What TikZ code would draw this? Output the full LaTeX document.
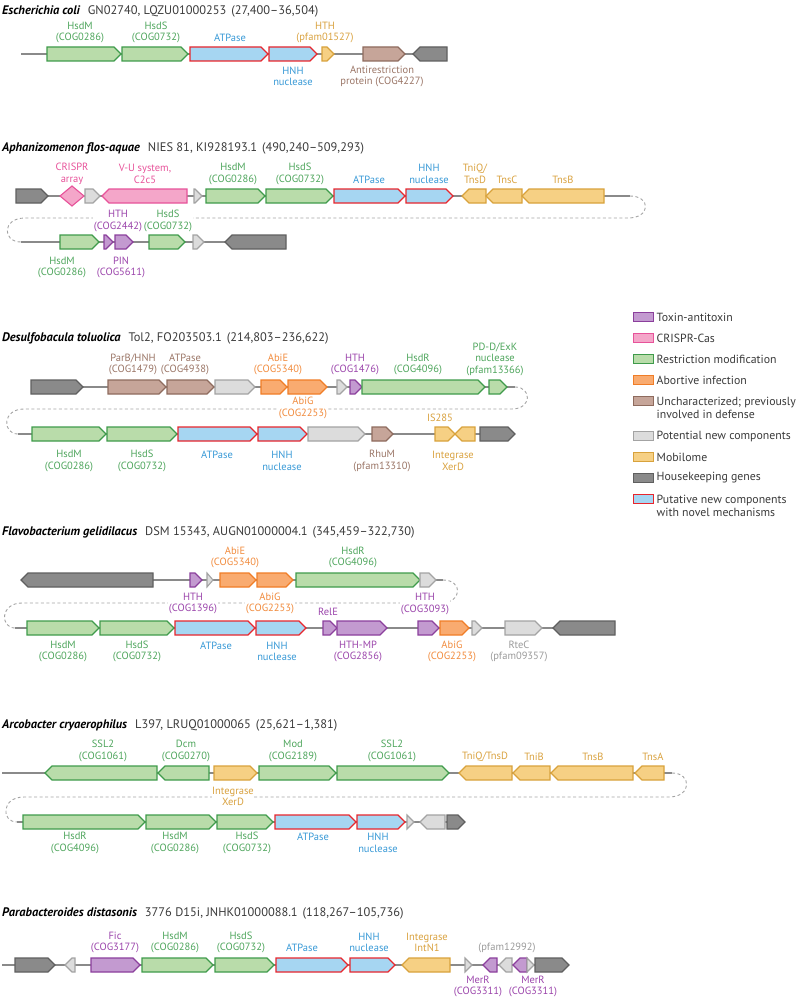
\documentclass[tikz,border=0pt]{standalone}
\usepackage{fontspec}
\setmainfont{PT Sans}
\usepackage{tikz}
\usepackage{xcolor}

\definecolor{rmF}{HTML}{B9DCAA}\definecolor{rmD}{HTML}{3F9B4B}\definecolor{rmT}{HTML}{4EA55C}
\definecolor{newF}{HTML}{A6D6F2}\definecolor{newD}{HTML}{E8262D}\definecolor{newT}{HTML}{3899D6}
\definecolor{taF}{HTML}{C39AD0}\definecolor{taD}{HTML}{8B3F9C}\definecolor{taT}{HTML}{9B45AB}
\definecolor{casF}{HTML}{F4A6C9}\definecolor{casD}{HTML}{E7539A}\definecolor{casT}{HTML}{E7539A}
\definecolor{abiF}{HTML}{F9AB70}\definecolor{abiD}{HTML}{F07D27}\definecolor{abiT}{HTML}{F18B3D}
\definecolor{mobF}{HTML}{F6D084}\definecolor{mobD}{HTML}{D8A23C}\definecolor{mobT}{HTML}{D9A240}
\definecolor{uncF}{HTML}{C6A599}\definecolor{uncD}{HTML}{8E6B5E}\definecolor{uncT}{HTML}{9A7566}
\definecolor{potF}{HTML}{DCDCDC}\definecolor{potD}{HTML}{A3A3A3}\definecolor{potT}{HTML}{9A9A9A}
\definecolor{hkF}{HTML}{8A8A8A}\definecolor{hkD}{HTML}{5F5F5F}
\definecolor{ttlC}{HTML}{3A3A3A}

% gene arrow: [r|l]{style}{x1}{x2}{y}
\newcommand{\orf}[5][r]{%
  \pgfmathsetmacro{\hd}{min(7,#4-#3)}%
  \if r#1
    \draw[#2] (#3,#5-7) -- ({#4-\hd},#5-7) -- (#4,#5) -- ({#4-\hd},#5+7) -- (#3,#5+7) -- cycle;
  \else
    \draw[#2] (#3,#5) -- ({#3+\hd},#5-7) -- (#4,#5-7) -- (#4,#5+7) -- ({#3+\hd},#5+7) -- cycle;
  \fi}
% species name in a title line
\newcommand{\spc}[1]{{\bfseries\itshape\color{black}#1}\hspace{8pt}}

\begin{document}
\begin{tikzpicture}[x=1pt,y=-1pt,
  every node/.style={font=\fontsize{10.5}{11.5}\selectfont, align=center, inner sep=0.5pt},
  gene/.style={line width=1.1pt},
  RM/.style={gene, draw=rmD, fill=rmF}, NEW/.style={gene, draw=newD, fill=newF},
  TA/.style={gene, draw=taD, fill=taF}, CAS/.style={gene, draw=casD, fill=casF},
  ABI/.style={gene, draw=abiD, fill=abiF}, MOB/.style={gene, draw=mobD, fill=mobF},
  UNC/.style={gene, draw=uncD, fill=uncF}, POT/.style={gene, draw=potD, fill=potF},
  HK/.style={gene, draw=hkD, fill=hkF},
  bb/.style={draw=hkF, line width=2.2pt},
  wrap/.style={draw=potD, line width=0.9pt, dash pattern=on 3pt off 2.5pt},
  ttl/.style={anchor=west, font=\fontsize{12.4}{15}\selectfont, text=ttlC, inner sep=0pt},
  wb/.style={fill=white}]
\useasboundingbox (0,0) rectangle (800,998);

% Escherichia coli
\node[ttl] (t1) at (2,11) {\spc{Escherichia coli}GN02740, LQZU01000253\hspace{5pt}(27,400–36,504)};
\draw[bb] (21,54) -- (447,54);
\orf{RM}{47}{121}{54}
\orf{RM}{122}{188}{54}
\orf{NEW}{190}{268}{54}
\orf{NEW}{269}{317}{54}
\orf{MOB}{322}{334}{54}
\orf{UNC}{363}{405}{54}
\orf[l]{HK}{413}{447}{54}
\node[text=rmT] (ec-hsdm) at (80,32.5) {HsdM\\(COG0286)};
\node[text=rmT] (ec-hsds) at (156,32.5) {HsdS\\(COG0732)};
\node[text=newT] (ec-atp) at (230,38) {ATPase};
\node[text=mobT] (ec-hth) at (325,32.5) {HTH\\(pfam01527)};
\node[text=newT] (ec-hnh) at (293,76.5) {HNH\\nuclease};
\node[text=uncT] (ec-anti) at (382,76.5) {Antirestriction\\protein (COG4227)};

% Aphanizomenon flos-aquae
\node[ttl] (t2) at (2,148) {\spc{Aphanizomenon flos-aquae}NIES 81, KI928193.1\hspace{5pt}(490,240–509,293)};
\draw[bb] (16,196) -- (630,196);
\orf{HK}{16}{48}{196}
\draw[CAS] (60,196) -- (72,186) -- (84,196) -- (72,206) -- cycle;
\orf{POT}{85}{100}{196}
\orf[l]{CAS}{102}{187}{196}
\orf{POT}{194}{202}{196}
\orf{RM}{206}{265}{196}
\orf{RM}{266}{333}{196}
\orf{NEW}{334}{405}{196}
\orf{NEW}{406}{453}{196}
\orf[l]{MOB}{462}{486}{196}
\orf[l]{MOB}{486}{522}{196}
\orf[l]{MOB}{522}{604}{196}
\coordinate (ap-e) at (630,196);
\coordinate (ap-s) at (21,242);
\draw[wrap] (ap-e) .. controls (651,196) and (651,218) .. (628,218) -- (25,218)
  .. controls (2,218) and (2,242) .. (ap-s);
\draw[bb] (ap-s) -- (286,242);
\orf{RM}{60}{99}{242}
\orf{TA}{104}{113}{242}
\orf{TA}{115}{133}{242}
\orf{RM}{149}{185}{242}
\orf{POT}{193}{204}{242}
\orf[l]{HK}{225}{286}{242}
\node[text=casT] (ap-arr) at (72,174) {CRISPR\\array};
\node[text=casT] (ap-vu) at (145,174) {V-U system,\\C2c5};
\node[text=rmT] (ap-hsdm) at (233,174) {HsdM\\(COG0286)};
\node[text=rmT] (ap-hsds) at (300,174) {HsdS\\(COG0732)};
\node[text=newT] (ap-atp) at (369,180) {ATPase};
\node[text=newT] (ap-hnh) at (429,174) {HNH\\nuclease};
\node[text=mobT] (ap-tniq) at (475,174) {TniQ/\\TnsD};
\node[text=mobT] (ap-tnsc) at (507,180) {TnsC};
\node[text=mobT] (ap-tnsb) at (563,180) {TnsB};
\node[text=taT, wb] (ap-hth) at (118,221) {HTH\\(COG2442)};
\node[text=rmT, wb] (ap-hsds2) at (168,221) {HsdS\\(COG0732)};
\node[text=rmT] (ap-hsdm2) at (62,267.5) {HsdM\\(COG0286)};
\node[text=taT] (ap-pin) at (121,267.5) {PIN\\(COG5611)};

% Desulfobacula toluolica
\node[ttl] (t3) at (2,338) {\spc{Desulfobacula toluolica}Tol2, FO203503.1\hspace{5pt}(214,803–236,622)};
\draw[bb] (31,387) -- (515,387);
\orf{HK}{31}{83}{387}
\orf{UNC}{108}{166}{387}
\orf{UNC}{167}{214}{387}
\orf{POT}{215}{255}{387}
\orf{ABI}{261}{287}{387}
\orf{ABI}{288}{327}{387}
\orf{POT}{337}{347}{387}
\orf{TA}{350}{362}{387}
\orf{RM}{362}{485}{387}
\orf{RM}{489}{507}{387}
\coordinate (de-e) at (515,387);
\coordinate (de-s) at (18,434);
\draw[wrap] (de-e) .. controls (532,387) and (532,409) .. (512,409) -- (24,409)
  .. controls (2,409) and (2,434) .. (de-s);
\draw[bb] (de-s) -- (515,434);
\orf{RM}{32}{106}{434}
\orf{RM}{107}{177}{434}
\orf{NEW}{178}{257}{434}
\orf{NEW}{258}{307}{434}
\orf{POT}{308}{365}{434}
\orf{UNC}{372}{393}{434}
\orf{MOB}{435}{455}{434}
\orf[l]{MOB}{455}{475}{434}
\orf{HK}{480}{515}{434}
\node[text=uncT] (de-parb) at (133,364.5) {ParB/HNH\\(COG1479)};
\node[text=uncT] (de-atp) at (185,364.5) {ATPase\\(COG4938)};
\node[text=abiT] (de-abie) at (278,364.5) {AbiE\\(COG5340)};
\node[text=taT] (de-hth) at (355,364.5) {HTH\\(COG1476)};
\node[text=rmT] (de-hsdr) at (418,364.5) {HsdR\\(COG4096)};
\node[text=rmT] (de-pdd) at (495,359) {PD-D/ExK\\nuclease\\(pfam13366)};
\node[text=abiT, wb] (de-abig) at (303,408) {AbiG\\(COG2253)};
\node[text=rmT] (de-hsdm) at (69,461) {HsdM\\(COG0286)};
\node[text=rmT] (de-hsds) at (142,461) {HsdS\\(COG0732)};
\node[text=newT] (de-atp2) at (217,455) {ATPase};
\node[text=newT] (de-hnh) at (282,461) {HNH\\nuclease};
\node[text=uncT] (de-rhum) at (382,461) {RhuM\\(pfam13310)};
\node[text=mobT, wb] (de-is) at (440,418) {IS285};
\node[text=mobT] (de-xerd) at (453,461) {Integrase\\XerD};

% legend
\foreach \by/\ty/\s/\t in {317/317/TA/Toxin-antitoxin, 338/338/CAS/CRISPR-Cas,
    359/359/RM/Restriction modification, 380/380/ABI/Abortive infection,
    401/408/UNC/{Uncharacterized; previously\\involved in defense},
    436/436/POT/Potential new components, 457/457/MOB/Mobilome,
    478/478/HK/Housekeeping genes,
    499/505.5/NEW/{Putative new components\\with novel mechanisms}}
{
  \draw[\s, line width=1pt] (633,\by-4.5) rectangle (653,\by+4.5);
  \node[anchor=west, align=left, font=\fontsize{11.8}{13.2}\selectfont, text=ttlC] (lg-\s) at (656,\ty) {\t};
}

% Flavobacterium gelidilacus
\node[ttl] (t4) at (2,532) {\spc{Flavobacterium gelidilacus}DSM 15343, AUGN01000004.1\hspace{5pt}(345,459–322,730)};
\draw[bb] (21,580) -- (443,580);
\orf[l]{HK}{21}{153}{580}
\orf{TA}{190}{202}{580}
\orf{POT}{207}{213}{580}
\orf{ABI}{220}{256}{580}
\orf{ABI}{257}{293}{580}
\orf{RM}{296}{420}{580}
\orf{POT}{420}{436}{580}
\coordinate (fl-e) at (443,580);
\coordinate (fl-s) at (15,628);
\draw[wrap] (fl-e) .. controls (463,580) and (463,603) .. (440,603) -- (22,603)
  .. controls (0,603) and (0,628) .. (fl-s);
\draw[bb] (fl-s) -- (615,628);
\orf{RM}{27}{99}{628}
\orf{RM}{100}{174}{628}
\orf{NEW}{175}{255}{628}
\orf{NEW}{256}{306}{628}
\orf{TA}{323}{337}{628}
\orf{TA}{337}{387}{628}
\orf{TA}{418}{439}{628}
\orf{ABI}{440}{469}{628}
\orf{POT}{472}{482}{628}
\orf{POT}{505}{542}{628}
\orf[l]{HK}{553}{615}{628}
\node[text=abiT] (fl-abie) at (235,557.5) {AbiE\\(COG5340)};
\node[text=rmT] (fl-hsdr) at (353,557.5) {HsdR\\(COG4096)};
\node[text=taT, wb] (fl-hth) at (193,603.5) {HTH\\(COG1396)};
\node[text=abiT, wb] (fl-abig) at (270,603.5) {AbiG\\(COG2253)};
\node[text=taT, wb] (fl-hth2) at (425,604) {HTH\\(COG3093)};
\node[text=taT] (fl-rele) at (328,612) {RelE};
\node[text=rmT] (fl-hsdm) at (63,651.5) {HsdM\\(COG0286)};
\node[text=rmT] (fl-hsds) at (137,651.5) {HsdS\\(COG0732)};
\node[text=newT] (fl-atp) at (216,646) {ATPase};
\node[text=newT] (fl-hnh) at (277,651.5) {HNH\\nuclease};
\node[text=taT] (fl-mp) at (358,651.5) {HTH-MP\\(COG2856)};
\node[text=abiT] (fl-abig2) at (452,651.5) {AbiG\\(COG2253)};
\node[text=potT] (fl-rtec) at (519,651.5) {RteC\\(pfam09357)};

% Arcobacter cryaerophilus
\node[ttl] (t5) at (2,725) {\spc{Arcobacter cryaerophilus}L397, LRUQ01000065\hspace{5pt}(25,621–1,381)};
\draw[bb] (2,773) -- (672,773);
\orf[l]{RM}{45}{157}{773}
\orf[l]{RM}{158}{209}{773}
\orf{MOB}{214}{257}{773}
\orf{RM}{259}{336}{773}
\orf{RM}{337}{449}{773}
\orf[l]{MOB}{459}{512}{773}
\orf[l]{MOB}{513}{550}{773}
\orf[l]{MOB}{551}{633}{773}
\orf[l]{MOB}{635}{664}{773}
\coordinate (ar-e) at (672,773);
\coordinate (ar-s) at (17,822);
\draw[wrap] (ar-e) .. controls (692,773) and (692,797) .. (669,797) -- (24,797)
  .. controls (1,797) and (1,822) .. (ar-s);
\draw[bb] (ar-s) -- (465,822);
\orf{RM}{23}{145}{822}
\orf{RM}{146}{216}{822}
\orf{RM}{217}{273}{822}
\orf{NEW}{275}{356}{822}
\orf{NEW}{357}{405}{822}
\orf{POT}{407}{414}{822}
\orf[l]{POT}{420}{445}{822}
\orf{HK}{447}{465}{822}
\node[text=rmT] (ar-ssl) at (103,751) {SSL2\\(COG1061)};
\node[text=rmT] (ar-dcm) at (186,751) {Dcm\\(COG0270)};
\node[text=rmT] (ar-mod) at (293,751) {Mod\\(COG2189)};
\node[text=rmT] (ar-ssl2) at (392,751) {SSL2\\(COG1061)};
\node[text=mobT] (ar-tniq) at (485,757) {TniQ/TnsD};
\node[text=mobT] (ar-tnib) at (534,757) {TniB};
\node[text=mobT] (ar-tnsb) at (593,757) {TnsB};
\node[text=mobT] (ar-tnsa) at (653,757) {TnsA};
\node[text=mobT, wb] (ar-xerd) at (233,796.5) {Integrase\\XerD};
\node[text=rmT] (ar-hsdr) at (75,843) {HsdR\\(COG4096)};
\node[text=rmT] (ar-hsdm) at (175,843) {HsdM\\(COG0286)};
\node[text=rmT] (ar-hsds) at (247,843) {HsdS\\(COG0732)};
\node[text=newT] (ar-atp) at (313,837) {ATPase};
\node[text=newT] (ar-hnh) at (378,843) {HNH\\nuclease};

% Parabacteroides distasonis
\node[ttl] (t6) at (2,913) {\spc{Parabacteroides distasonis}3776 D15i, JNHK01000088.1\hspace{5pt}(118,267–105,736)};
\draw[bb] (2,965) -- (569,965);
\orf{HK}{15}{55}{965}
\orf[l]{POT}{65}{75}{965}
\orf{TA}{91}{140}{965}
\orf{RM}{142}{213}{965}
\orf{RM}{215}{274}{965}
\orf{NEW}{276}{348}{965}
\orf{NEW}{350}{395}{965}
\orf[l]{MOB}{402}{450}{965}
\orf{POT}{465}{472}{965}
\orf[l]{TA}{483}{497}{965}
\orf[l]{POT}{499}{512}{965}
\orf[l]{TA}{513}{527}{965}
\orf{POT}{527}{534}{965}
\orf{HK}{535}{569}{965}
\node[text=taT] (pa-fic) at (115,942.5) {Fic\\(COG3177)};
\node[text=rmT] (pa-hsdm) at (175,942.5) {HsdM\\(COG0286)};
\node[text=rmT] (pa-hsds) at (241,942.5) {HsdS\\(COG0732)};
\node[text=newT] (pa-atp) at (302,948) {ATPase};
\node[text=newT] (pa-hnh) at (369,942.5) {HNH\\nuclease};
\node[text=mobT] (pa-int) at (427,942.5) {Integrase\\IntN1};
\node[text=potT] (pa-pf) at (507,948) {(pfam12992)};
\node[text=taT] (pa-merr) at (478,986.5) {MerR\\(COG3311)};
\node[text=taT] (pa-merr2) at (533,986.5) {MerR\\(COG3311)};
\end{tikzpicture}
\end{document}
